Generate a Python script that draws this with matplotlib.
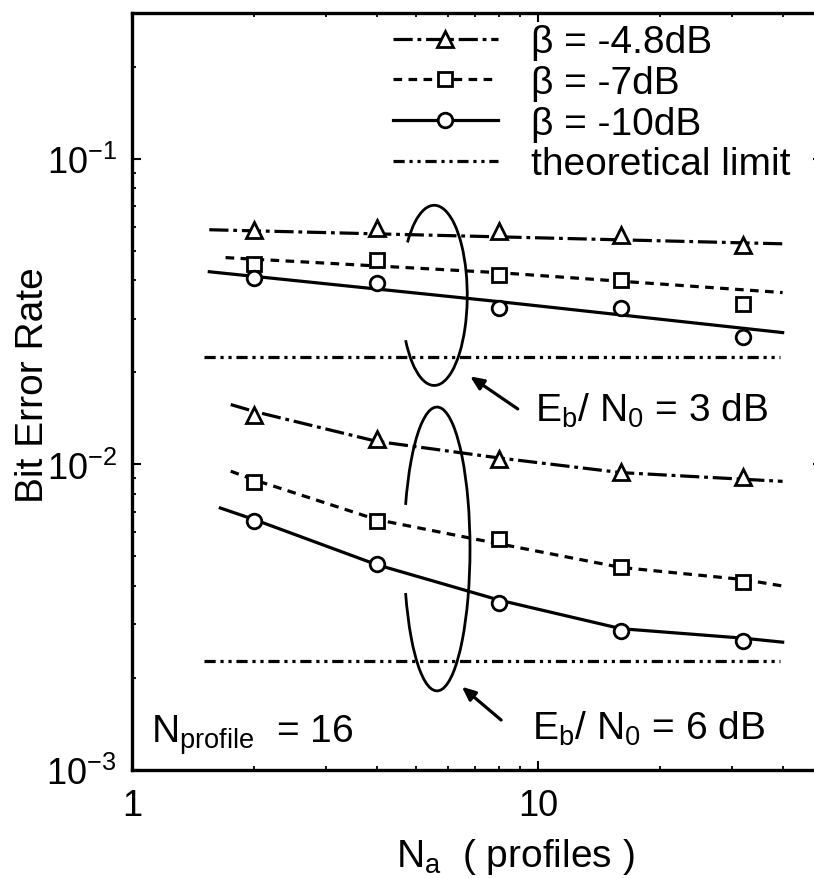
import matplotlib
matplotlib.use('Agg')
import matplotlib.pyplot as plt
from matplotlib.patches import Arc
from matplotlib.lines import Line2D
from matplotlib.ticker import LogLocator, NullFormatter

plt.rcParams['font.family'] = ['Liberation Sans', 'DejaVu Sans']
plt.rcParams['mathtext.fontset'] = 'custom'
plt.rcParams['mathtext.rm'] = 'Liberation Sans'
plt.rcParams['mathtext.it'] = 'Liberation Sans:italic'
plt.rcParams['mathtext.bf'] = 'Liberation Sans:bold'

# number of averaged profiles
na = [2, 4, 8, 16, 32]

# Eb/N0 = 3 dB, simulated points
ber3_b48 = [0.0586, 0.0595, 0.0582, 0.0565, 0.0524]
ber3_b7 = [0.0454, 0.0468, 0.0418, 0.0402, 0.0334]
ber3_b10 = [0.0408, 0.0393, 0.0326, 0.0326, 0.0262]

# Eb/N0 = 6 dB, simulated points
ber6_b48 = [0.01455, 0.01207, 0.01038, 0.00941, 0.00907]
ber6_b7 = [0.00873, 0.00652, 0.00569, 0.00460, 0.00411]
ber6_b10 = [0.00652, 0.00471, 0.00352, 0.00284, 0.00264]

# fitted curves
fit3_b48_x = [1.55, 40]
fit3_b48_y = [0.0586, 0.0527]
fit3_b7_x = [1.7, 8, 40]
fit3_b7_y = [0.0475, 0.0424, 0.0365]
fit3_b10_x = [1.55, 8, 40]
fit3_b10_y = [0.0427, 0.0341, 0.0270]

fit6_b48_x = [1.75, 2, 4, 8, 16, 40]
fit6_b48_y = [0.0157, 0.0149, 0.0119, 0.0105, 0.0094, 0.0088]
fit6_b7_x = [1.75, 2, 4, 8, 16, 32, 40]
fit6_b7_y = [0.0095, 0.0089, 0.0066, 0.0055, 0.0046, 0.0042, 0.0040]
fit6_b10_x = [1.65, 2, 4, 8, 16, 32, 40]
fit6_b10_y = [0.0072, 0.0066, 0.0047, 0.0036, 0.0029, 0.0027, 0.00262]

# theoretical limits
lim_x = [1.5, 39.5]
lim3 = [0.0225, 0.0225]
lim6 = [0.00227, 0.00227]

labels = ['β = -4.8dB', 'β = -7dB', 'β = -10dB', 'theoretical limit']

lw = 2.3
dashdot = (0, (6, 1.5, 1.2, 1.5))
dashed = (0, (2.7, 2))
dashdotdot = (0, (3.5, 1.5, 1, 1.5, 1, 1.5))

fig = plt.figure(figsize=(8.14, 8.79), dpi=100)
ax = fig.add_axes([132/814, 1-771/879, 690/814, 757/879])
ax.set_xscale('log')
ax.set_yscale('log')

styles = [(dashdot, '^', 11), (dashed, 's', 9.5), ('-', 'o', 10.5)]

curves = [(fit3_b48_x, fit3_b48_y, ber3_b48, styles[0]),
          (fit3_b7_x, fit3_b7_y, ber3_b7, styles[1]),
          (fit3_b10_x, fit3_b10_y, ber3_b10, styles[2]),
          (fit6_b48_x, fit6_b48_y, ber6_b48, styles[0]),
          (fit6_b7_x, fit6_b7_y, ber6_b7, styles[1]),
          (fit6_b10_x, fit6_b10_y, ber6_b10, styles[2])]

for fx, fy, pts, (ls, mk, ms) in curves:
	ax.plot(fx, fy, color='k', ls=ls, lw=lw)
	ax.plot(na, pts, ls='none', marker=mk, ms=ms, mfc='white', mec='k', mew=2)

ax.plot(lim_x, lim3, color='k', ls=dashdotdot, lw=lw)
ax.plot(lim_x, lim6, color='k', ls=dashdotdot, lw=lw)

ax.set_xlim(1, 50)
ax.set_ylim(1e-3, 0.3)

ax.set_xticks([1, 10])
ax.set_xticklabels(['1', '10'])
ax.xaxis.set_minor_locator(LogLocator(base=10, subs=range(2, 10), numticks=20))
ax.xaxis.set_minor_formatter(NullFormatter())
ax.set_yticks([1e-3, 1e-2, 1e-1])
ax.set_yticklabels([r'$10^{-3}$', r'$10^{-2}$', r'$10^{-1}$'])
ax.yaxis.set_minor_locator(LogLocator(base=10, subs=range(2, 10), numticks=20))
ax.yaxis.set_minor_formatter(NullFormatter())

ax.tick_params(which='both', direction='in', top=True, right=True, labelsize=26)
ax.tick_params(which='major', length=6.5, width=1.5)
ax.tick_params(which='minor', length=3, width=1.3)
ax.tick_params(axis='x', pad=13)
ax.tick_params(axis='y', pad=11)
for s in ax.spines.values():
	s.set_linewidth(2.4)

ax.set_ylabel('Bit Error Rate', fontsize=28)
ax.yaxis.set_label_coords(-0.118, 0.51)
ax.set_xlabel(r'N$_{\mathregular{a}}$  ( profiles )', fontsize=28)
ax.xaxis.set_label_coords(0.555, -0.087)

handles = [Line2D([], [], color='k', ls=dashdot, lw=lw, marker='^', ms=11, mfc='white', mec='k', mew=2),
           Line2D([], [], color='k', ls=dashed, lw=lw, marker='s', ms=9.5, mfc='white', mec='k', mew=2),
           Line2D([], [], color='k', ls='-', lw=lw, marker='o', ms=10.5, mfc='white', mec='k', mew=2),
           Line2D([], [], color='k', ls=dashdotdot, lw=lw)]
ax.legend(handles, labels, loc='upper left', bbox_to_anchor=(0.378, 0.985), frameon=False,
          handlelength=2.7, handletextpad=0.85, labelspacing=0.12, borderpad=0,
          borderaxespad=0, fontsize=28, numpoints=1)

# annotations
ax.text(0.584, 0.461, r'E$_{\mathregular{b}}$/ N$_{\mathregular{0}}$ = 3 dB', transform=ax.transAxes,
        fontsize=28, va='baseline')
ax.text(0.580, 0.041, r'E$_{\mathregular{b}}$/ N$_{\mathregular{0}}$ = 6 dB', transform=ax.transAxes,
        fontsize=28, va='baseline')
ax.text(0.0275, 0.038, r'N$_{\mathregular{profile}}$  = 16', transform=ax.transAxes,
        fontsize=28, va='baseline')

arrow = dict(arrowstyle='-|>,head_length=0.8,head_width=0.35', color='k', lw=2.3, shrinkA=0, shrinkB=0)
ax.annotate('', xy=(0.490, 0.520), xytext=(0.559, 0.477), xycoords='axes fraction',
            textcoords='axes fraction', arrowprops=arrow)
ax.annotate('', xy=(0.478, 0.110), xytext=(0.535, 0.066), xycoords='axes fraction',
            textcoords='axes fraction', arrowprops=arrow)

ax.add_patch(Arc((0.438, 0.627), 0.0957, 0.238, theta1=-125, theta2=119,
                 transform=ax.transAxes, color='k', lw=2))
ax.add_patch(Arc((0.442, 0.292), 0.0957, 0.375, theta1=-128, theta2=128,
                 transform=ax.transAxes, color='k', lw=2))

fig.savefig('out.png', dpi=100)
